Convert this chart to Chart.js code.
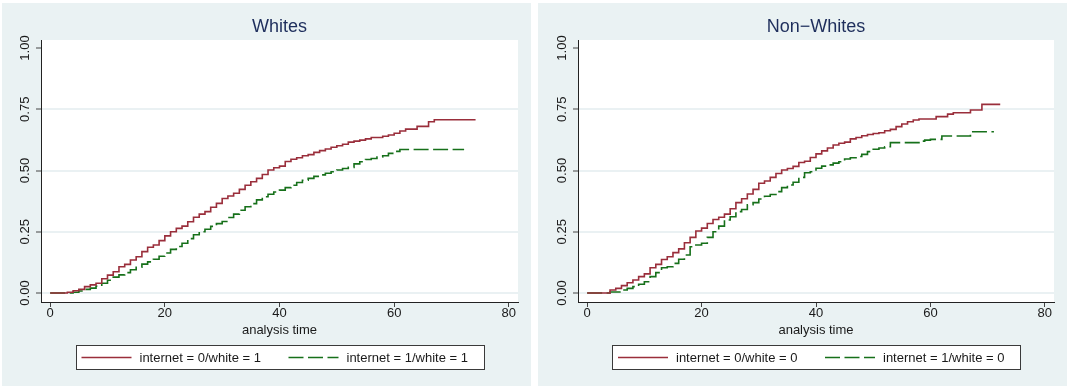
<!DOCTYPE html>
<html><head><meta charset="utf-8">
<script src="https://cdn.jsdelivr.net/npm/chart.js@4"></script>
<style>
html,body{margin:0;padding:0;background:#fff;width:1069px;height:387px;overflow:hidden}
.panel{position:absolute;top:3px;width:529px;height:383px;background:#EAF2F3}
#p1{left:2px} #p2{left:538px}
canvas{display:block}
</style></head><body>
<div class="panel" id="p1"><canvas id="c1" width="529" height="383"></canvas></div>
<div class="panel" id="p2"><canvas id="c2" width="529" height="383"></canvas></div>
<script>
// ---- data ----
const xTicks = [0, 20, 40, 60, 80];
const yTicks = [0, 0.25, 0.5, 0.75, 1];
const yTickLabels = ['0.00', '0.25', '0.50', '0.75', '1.00'];
const xTitle = 'analysis time';
const panelTitles = ['Whites', 'Non\u2212Whites'];
const legendLabels = [
  ['internet = 0/white = 1', 'internet = 1/white = 1'],
  ['internet = 0/white = 0', 'internet = 1/white = 0']
];

// Whites, internet = 0
const whNo_t = [0,3,4,5,6,7,8,9,10,11,12,13,14,15,16,17,18,19,20,21,22,23,24,25,26,27,28,29,30,31,32,33,34,35,36,37,38,39,40,41,42,43,44,45,46,47,48,49,50,51,52,53,54,55,56,58,59,60,61,62,64,66,67,74.2];
const whNo_f = [0,0.003,0.009,0.015,0.026,0.033,0.040,0.058,0.073,0.087,0.107,0.117,0.135,0.148,0.169,0.187,0.196,0.214,0.233,0.250,0.264,0.273,0.291,0.309,0.322,0.332,0.350,0.366,0.386,0.396,0.407,0.423,0.440,0.454,0.468,0.484,0.502,0.511,0.518,0.537,0.546,0.552,0.560,0.565,0.574,0.581,0.588,0.595,0.601,0.607,0.616,0.620,0.624,0.629,0.635,0.640,0.645,0.652,0.661,0.669,0.680,0.699,0.707,0.707];
// Whites, internet = 1
const whYes_t = [0,4,5,6,7,8,9,10,11,12,13,14,15,16,17,18,19,20,21,22,23,24,25,26,27,28,29,30,31,32,33,34,35,36,37,38,39,40,41,42,43,44,45,46,47,48,49,50,51,52,53,54,55,56,57,58,59,60,61,72.2];
const whYes_f = [0,0.003,0.008,0.015,0.020,0.028,0.040,0.052,0.065,0.074,0.083,0.095,0.105,0.118,0.127,0.138,0.150,0.163,0.178,0.190,0.203,0.222,0.238,0.250,0.260,0.272,0.283,0.292,0.308,0.322,0.338,0.352,0.365,0.380,0.393,0.403,0.412,0.420,0.430,0.440,0.451,0.460,0.468,0.476,0.482,0.489,0.495,0.502,0.508,0.513,0.527,0.536,0.545,0.549,0.555,0.560,0.570,0.578,0.586,0.586];
// Non-whites, internet = 0
const nwNo_t = [0,4,5,6,7,8,9,10,11,12,13,14,15,16,17,18,19,20,21,22,23,24,25,26,27,28,29,30,31,32,33,34,35,36,37,38,39,40,41,42,43,44,45,46,47,48,49,50,51,52,53,54,55,56,57,58,61,63,64,67,69,72.2];
const nwNo_f = [0,0.012,0.019,0.030,0.042,0.053,0.067,0.078,0.103,0.117,0.137,0.148,0.165,0.180,0.205,0.227,0.253,0.265,0.284,0.300,0.309,0.322,0.344,0.369,0.385,0.404,0.423,0.448,0.457,0.472,0.488,0.502,0.508,0.517,0.533,0.538,0.553,0.568,0.580,0.592,0.604,0.611,0.616,0.629,0.635,0.642,0.647,0.651,0.654,0.662,0.668,0.679,0.690,0.699,0.706,0.710,0.720,0.730,0.736,0.747,0.770,0.770];
// Non-whites, internet = 1
const nwYes_t = [0,4,6,7,8,9,10,11,12,13,14,15,16,17,18,19,20,21,22,23,24,25,26,27,28,29,30,31,32,33,34,35,36,37,38,39,40,41,42,43,44,45,46,47,48,49,50,51,52,53,58,59,60,62,67,71.1];
const nwYes_f = [0,0.004,0.012,0.019,0.026,0.036,0.046,0.067,0.083,0.103,0.107,0.121,0.138,0.155,0.189,0.196,0.203,0.227,0.250,0.273,0.298,0.311,0.332,0.341,0.360,0.369,0.384,0.395,0.402,0.414,0.430,0.441,0.452,0.472,0.491,0.495,0.509,0.518,0.523,0.530,0.536,0.547,0.552,0.557,0.566,0.577,0.587,0.592,0.597,0.614,0.620,0.624,0.627,0.641,0.658,0.658];

// ---- styles ----
const FONT = '"Liberation Sans", Arial, Helvetica, sans-serif';
const RED = '#9A2E3B';
const GREEN = '#16701A';
const DASH = [15, 4.5];

const decor = {
  id: 'decor',
  beforeDraw(chart) {
    const {ctx, chartArea: a} = chart;
    ctx.save();
    ctx.fillStyle = '#ffffff';
    ctx.fillRect(a.left, a.top, a.right - a.left, a.bottom - a.top);
    ctx.restore();
  },
  afterDraw(chart, args, opts) {
    const {ctx, chartArea: a, scales} = chart;
    const cx = (a.left + a.right) / 2;
    ctx.save();
    ctx.textAlign = 'center';
    ctx.textBaseline = 'middle';
    // title
    ctx.fillStyle = '#1E2E5C';
    ctx.font = '18px ' + FONT;
    ctx.fillText(opts.title, cx, 24);
    // y tick labels (rotated)
    ctx.fillStyle = '#1a1a1a';
    ctx.font = '13px ' + FONT;
    yTicks.forEach((v, i) => {
      const py = scales.y.getPixelForValue(v);
      ctx.save();
      ctx.translate(opts.yLabelX, py);
      ctx.rotate(-Math.PI / 2);
      ctx.fillText(yTickLabels[i], 0, 0);
      ctx.restore();
    });
    // x axis title
    ctx.fillText(xTitle, cx, 327);
    // legend
    const bw = 408, bh = 24, bx = Math.round(cx - bw / 2) + 0.5, by = 342.5;
    ctx.fillStyle = '#ffffff';
    ctx.fillRect(bx, by, bw, bh);
    ctx.strokeStyle = '#3a3a3a';
    ctx.lineWidth = 1;
    ctx.strokeRect(bx, by, bw, bh);
    const ly = by + bh / 2;
    chart.data.datasets.forEach((ds, i) => {
      const sx = cx + (i === 0 ? -198 : 9);
      ctx.save();
      ctx.strokeStyle = ds.borderColor;
      ctx.lineWidth = 1.3;
      ctx.setLineDash(ds.borderDash || []);
      ctx.beginPath();
      ctx.moveTo(sx, ly);
      ctx.lineTo(sx + 50, ly);
      ctx.stroke();
      ctx.restore();
      ctx.fillStyle = '#1a1a1a';
      ctx.textAlign = 'left';
      ctx.fillText(ds.label, sx + 58, ly + 0.5);
    });
    ctx.restore();
  }
};

function series(label, t, f, color, dash) {
  return {
    label: label,
    data: t.map((x, i) => ({x: x, y: f[i]})),
    borderColor: color,
    borderWidth: 1.6,
    borderDash: dash,
    stepped: 'before',
    pointRadius: 0,
    fill: false,
    tension: 0
  };
}

function makeChart(id, title, labels, sets, leftW, yLabelX) {
  return new Chart(document.getElementById(id), {
    type: 'line',
    data: {datasets: sets},
    options: {
      responsive: false,
      animation: false,
      devicePixelRatio: 1,
      layout: {padding: {left: 0, right: 13, top: 37, bottom: 0}},
      plugins: {
        legend: {display: false},
        tooltip: {enabled: false},
        title: {display: false},
        decor: {title: title, yLabelX: yLabelX}
      },
      scales: {
        x: {
          type: 'linear',
          min: -1.6, max: 81.6,
          afterFit(s) { s.height = 84; },
          afterBuildTicks(s) { s.ticks = xTicks.map(v => ({value: v})); },
          ticks: {
            font: {family: FONT, size: 13, lineHeight: 1},
            color: '#1a1a1a',
            padding: 0,
            autoSkip: false,
            maxRotation: 0,
            minRotation: 0,
            callback: v => String(v)
          },
          grid: {drawOnChartArea: false, drawTicks: true, tickLength: 5, tickColor: '#444', tickWidth: 1},
          border: {display: true, color: '#222', width: 1}
        },
        y: {
          type: 'linear',
          min: -0.0367, max: 1.0327,
          afterFit(s) { s.width = leftW; },
          afterBuildTicks(s) { s.ticks = yTicks.map(v => ({value: v})); },
          ticks: {display: false},
          grid: {
            color: c => (c.tick && c.tick.value === 1) ? 'rgba(0,0,0,0)' : '#EAF1F3',
            lineWidth: 2,
            drawTicks: true,
            tickLength: 5,
            tickColor: '#444',
            tickWidth: 1
          },
          border: {display: true, color: '#222', width: 1}
        }
      }
    },
    plugins: [decor]
  });
}

makeChart('c1', panelTitles[0], legendLabels[0], [
  series(legendLabels[0][0], whNo_t, whNo_f, RED, []),
  series(legendLabels[0][1], whYes_t, whYes_f, GREEN, DASH)
], 39, 23.5);

makeChart('c2', panelTitles[1], legendLabels[1], [
  series(legendLabels[1][0], nwNo_t, nwNo_f, RED, []),
  series(legendLabels[1][1], nwYes_t, nwYes_f, GREEN, DASH)
], 40, 24);
</script>
</body></html>
